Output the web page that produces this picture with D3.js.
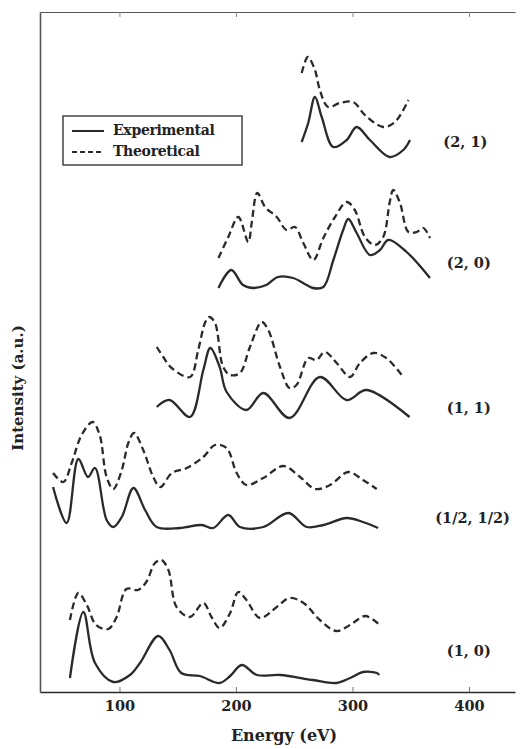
<!DOCTYPE html>
<html>
<head>
<meta charset="utf-8">
<script src="https://cdn.jsdelivr.net/npm/d3@7"></script>
<style>
  html, body { margin: 0; padding: 0; background: #fff; }
  svg text { font-family: "DejaVu Serif", "Liberation Serif", serif; font-weight: bold; fill: #222; }
</style>
</head>
<body>
<svg id="chart" width="523" height="749"></svg>
<script>
// ---- Data (energy in eV, intensity in arbitrary units relative to each pattern's baseline) ----
const patterns = ["(1, 0)", "(1/2, 1/2)", "(1, 1)", "(2, 0)", "(2, 1)"];
const offsets = [0, 150, 270, 400, 530];
const labelLevels = [40, 23, 13, 28, 19];
const labelEnergies = [381, 371, 381, 381, 378];

const exp10 = [[57.5,14],[69,80],[79,29],[94.7,10],[109,17],[117.6,29],[133.3,56],[143,42],[153,19],[169,16],[186,9],[195,16],[205,27],[218,17],[238,17],[266,12],[286,9],[298,14],[309,20],[321,19],[323,17]];
const theo10 = [[57.5,72],[64.7,99],[72,87],[80,67],[90.4,63],[97.6,75],[106,103],[116,102],[123,110],[130.5,129],[136,132],[142,122],[149,85],[160.5,75],[172,89],[179,75],[186,64],[195,79],[202,100],[209,92],[220.6,74],[235,85],[246,94],[258,89],[272,72],[286,61],[298,67],[311,76],[323.5,67]];

const expHH = [[43,55],[54.7,19],[64.7,83],[73,65],[79,74],[89,22],[94.7,15],[102,25],[112,54],[122,32],[132,15],[152,14],[170.5,17],[180.5,14],[193.4,27],[203.4,15],[223.5,15],[245,29],[260.7,15],[275,17],[295,24],[309,20],[322,14]];
const theoHH = [[43,69],[51.8,60],[59,79],[67.5,107],[77,120],[83,107],[89,65],[94.7,53],[102,72],[107.6,99],[112.5,109],[120.4,92],[129,65],[135,55],[145,69],[157.7,74],[172,85],[182,97],[192,94],[200.6,69],[209,57],[223.5,64],[240.6,76],[255,65],[268,53],[280.7,57],[296.4,70],[309,62],[320.8,53]];

const exp11 = [[132,15],[143,22],[160.5,5],[172,52],[178,74],[186,55],[192,30],[209,12],[223.5,29],[246,4],[272,45],[295,22],[312,32],[349,5]];
const theo11 = [[132,75],[137.6,65],[144.8,54],[160.5,45],[167.6,72],[173.4,99],[177,105],[182,99],[189,55],[195,47],[203.4,49],[212,75],[222,100],[227.7,92],[237.8,55],[246,34],[252,37],[262,64],[269,62],[276.4,70],[286.4,59],[298,45],[306.4,59],[318,69],[329,64],[343.6,45]];

const exp20 = [[185,4],[196,22],[206,7],[215,4],[226,7],[236,15],[249,14],[260.7,7],[266,4],[275,5],[283.6,32],[292,62],[296.4,73],[303.6,59],[315,37],[323.6,42],[330.7,52],[346.5,40],[366.5,14]];
const theo20 = [[185,34],[193.4,55],[202,75],[210.6,50],[213.5,69],[218.3,99],[225,85],[235,75],[243.5,62],[250.6,65],[257.8,49],[266.4,32],[275,54],[285,75],[295,90],[302,82],[310.7,55],[319.3,47],[326.4,55],[332,90],[335,102],[340.8,89],[348,60],[355,60],[360.8,64],[366.5,54]];

const exp21 = [[256.4,20],[262,39],[267.8,65],[273.6,45],[283.5,15],[295,22],[303.6,35],[315,22],[332,5],[343.6,12],[349.4,22]];
const theo21 = [[256.4,89],[260.7,104],[262,105],[267.8,92],[272,72],[279,55],[289,59],[300.7,60],[310.7,47],[326.4,35],[336.5,40],[348,62]];

const experimental = [exp10, expHH, exp11, exp20, exp21];
const theoretical = [theo10, theoHH, theo11, theo20, theo21];

const xTicks = [100, 200, 300, 400];
const legendItems = ["Experimental", "Theoretical"];

// ---- Layout ----
const svg = d3.select("#chart");
const W = 523, H = 749;
const margin = { left: 40, right: 8, top: 12, bottom: 57 };
const x = d3.scaleLinear().domain([31.8, 439.5]).range([margin.left, W - margin.right]);
const y = d3.scaleLinear().domain([0, 680]).range([H - margin.bottom, margin.top]);

svg.append("rect").attr("width", W).attr("height", H).attr("fill", "#fff");

const ink = "#2a2a2a";
const fontFam = "DejaVu Serif, Liberation Serif, serif";

// axes
const xAxisBottom = d3.axisBottom(x).tickValues(xTicks).tickSize(-5).tickSizeOuter(0).tickPadding(9).tickFormat(d3.format("d"));
const gB = svg.append("g").attr("transform", `translate(0,${y(0)})`).call(xAxisBottom);
gB.select(".domain").attr("stroke", ink).attr("stroke-width", 1.6);
gB.selectAll(".tick line").attr("stroke", "#777").attr("stroke-width", 1);
gB.selectAll(".tick text").style("font-size", "14.5px").style("font-family", fontFam).style("font-weight", "bold").attr("fill", "#222");

const xAxisTop = d3.axisTop(x).tickValues(xTicks).tickSize(-5).tickSizeOuter(0).tickFormat("");
const gT = svg.append("g").attr("transform", `translate(0,${y(680)})`).call(xAxisTop);
gT.select(".domain").attr("stroke", "#555").attr("stroke-width", 1.2);
gT.selectAll(".tick line").attr("stroke", "#888").attr("stroke-width", 1);

const yAxis = d3.axisLeft(y).tickValues([]).tickSizeOuter(0);
const gL = svg.append("g").attr("transform", `translate(${x(31.8)},0)`).call(yAxis);
gL.select(".domain").attr("stroke", "#555").attr("stroke-width", 1.6);

// axis titles
svg.append("text").attr("x", 284).attr("y", 741)
  .attr("text-anchor", "middle").style("font-size", "16px").text("Energy (eV)");
svg.append("text").attr("transform", `translate(23,${y(304)}) rotate(-90)`)
  .attr("text-anchor", "middle").style("font-size", "15px").text("Intensity (a.u.)");

// curves
const line = d3.line()
  .x(d => x(d[0]))
  .y(d => y(d[1]))
  .curve(d3.curveCatmullRom.alpha(0.5));

patterns.forEach((p, i) => {
  const off = offsets[i];
  svg.append("path")
    .datum(theoretical[i].map(d => [d[0], d[1] + off]))
    .attr("d", line).attr("fill", "none").attr("stroke", ink)
    .attr("stroke-width", 2.3).attr("stroke-dasharray", "7,4");
  svg.append("path")
    .datum(experimental[i].map(d => [d[0], d[1] + off]))
    .attr("d", line).attr("fill", "none").attr("stroke", ink)
    .attr("stroke-width", 2.3);
  svg.append("text")
    .attr("x", x(labelEnergies[i])).attr("y", y(off + labelLevels[i]))
    .attr("dominant-baseline", "middle")
    .style("font-size", "14.5px").text(p);
});

// legend
const lg = svg.append("g");
lg.append("rect").attr("x", 63).attr("y", 116).attr("width", 179).attr("height", 49)
  .attr("fill", "#fff").attr("stroke", "#444").attr("stroke-width", 1.5);
legendItems.forEach((t, i) => {
  const yy = 131 + i * 21;
  lg.append("line").attr("x1", 72).attr("x2", 104).attr("y1", yy).attr("y2", yy)
    .attr("stroke", ink).attr("stroke-width", 2)
    .attr("stroke-dasharray", i === 1 ? "5,3" : null);
  lg.append("text").attr("x", 113).attr("y", yy).attr("dominant-baseline", "middle")
    .style("font-size", "14px").style("letter-spacing", "-0.3px").text(t);
});
</script>
</body>
</html>
